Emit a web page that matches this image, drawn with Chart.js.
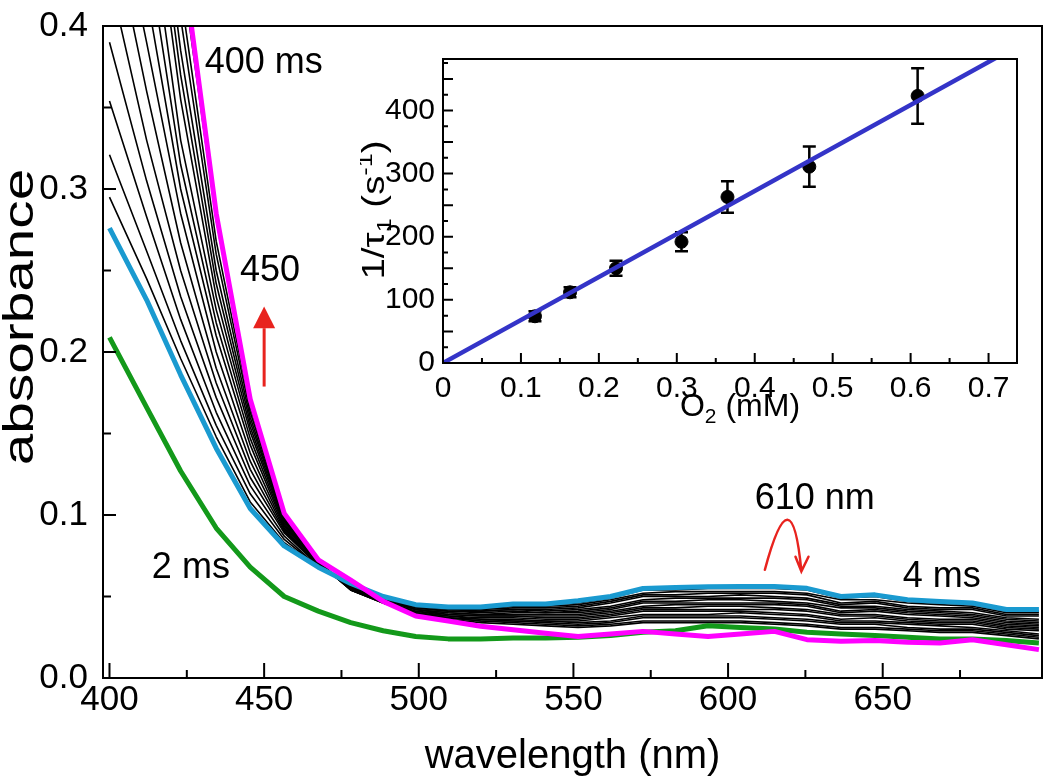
<!DOCTYPE html>
<html>
<head>
<meta charset="utf-8">
<script src="https://cdn.jsdelivr.net/npm/chart.js@4.4.0/dist/chart.umd.min.js"></script>
<style>
  html, body { margin: 0; padding: 0; background: #fff; }
  #wrap { position: relative; width: 1050px; height: 779px; }
  #main { position: absolute; left: 0; top: 0; }
  #inset { position: absolute; left: 360px; top: 40px; }
</style>
</head>
<body>
<div id="wrap">
  <canvas id="main" width="1050" height="779"></canvas>
  <canvas id="inset" width="680" height="400"></canvas>
</div>
<script>
// spectra (absorbance vs wavelength, nm)
const wavelengths = [400, 412, 423, 434.5, 445.5, 456.5, 467.5, 478, 488.5, 499, 509.5, 520, 530.5, 541, 551.5, 562, 572.5, 583, 593.5, 604, 615, 625.5, 636.5, 647.5, 658, 668.5, 679, 690, 700.5]
const abs2ms = [0.209, 0.166, 0.127, 0.092, 0.068, 0.050, 0.041, 0.034, 0.029, 0.0255, 0.024, 0.024, 0.0245, 0.0245, 0.025, 0.026, 0.028, 0.029, 0.032, 0.031, 0.030, 0.028, 0.027, 0.026, 0.025, 0.024, 0.024, 0.023, 0.0215]
const abs4ms = [0.276, 0.232, 0.186, 0.141, 0.104, 0.081, 0.068, 0.058, 0.050, 0.045, 0.0435, 0.0435, 0.0454, 0.0454, 0.0474, 0.050, 0.0549, 0.0555, 0.056, 0.0561, 0.0561, 0.055, 0.050, 0.051, 0.048, 0.047, 0.046, 0.042, 0.042]
const abs400ms = [0.85, 0.62, 0.45, 0.285, 0.171, 0.101, 0.0725, 0.060, 0.047, 0.038, 0.035, 0.0317, 0.0296, 0.0275, 0.0255, 0.027, 0.0286, 0.027, 0.0255, 0.027, 0.0286, 0.0235, 0.0225, 0.023, 0.022, 0.0215, 0.0235, 0.0204, 0.0174]
// intermediate times (black traces), earliest first
const absBetween = [
  [0.295, 0.245, 0.196, 0.148, 0.108, 0.083, 0.068, 0.058, 0.050, 0.045, 0.043, 0.043, 0.045, 0.045, 0.046, 0.049, 0.054, 0.054, 0.055, 0.055, 0.055, 0.054, 0.049, 0.050, 0.047, 0.046, 0.045, 0.041, 0.041],
  [0.321, 0.262, 0.207, 0.155, 0.113, 0.085, 0.068, 0.057, 0.050, 0.044, 0.043, 0.042, 0.044, 0.044, 0.045, 0.048, 0.052, 0.053, 0.053, 0.053, 0.053, 0.052, 0.048, 0.048, 0.046, 0.045, 0.044, 0.040, 0.040],
  [0.354, 0.283, 0.220, 0.163, 0.118, 0.087, 0.068, 0.057, 0.049, 0.044, 0.042, 0.042, 0.043, 0.043, 0.044, 0.047, 0.051, 0.051, 0.052, 0.052, 0.052, 0.051, 0.046, 0.047, 0.044, 0.043, 0.043, 0.039, 0.039],
  [0.390, 0.305, 0.234, 0.172, 0.123, 0.089, 0.069, 0.057, 0.049, 0.044, 0.042, 0.041, 0.042, 0.042, 0.043, 0.046, 0.050, 0.050, 0.050, 0.051, 0.050, 0.049, 0.045, 0.046, 0.043, 0.042, 0.042, 0.038, 0.038],
  [0.43, 0.33, 0.25, 0.181, 0.128, 0.090, 0.069, 0.056, 0.049, 0.043, 0.041, 0.041, 0.042, 0.041, 0.042, 0.044, 0.048, 0.049, 0.049, 0.049, 0.049, 0.048, 0.044, 0.044, 0.042, 0.041, 0.040, 0.037, 0.036],
  [0.47, 0.36, 0.267, 0.19, 0.133, 0.091, 0.069, 0.056, 0.048, 0.043, 0.041, 0.040, 0.041, 0.040, 0.041, 0.043, 0.047, 0.047, 0.048, 0.048, 0.047, 0.046, 0.043, 0.043, 0.041, 0.040, 0.039, 0.036, 0.035],
  [0.50, 0.39, 0.285, 0.20, 0.138, 0.092, 0.069, 0.056, 0.048, 0.042, 0.040, 0.039, 0.040, 0.040, 0.040, 0.042, 0.046, 0.046, 0.046, 0.046, 0.046, 0.045, 0.041, 0.042, 0.040, 0.039, 0.038, 0.035, 0.034],
  [0.54, 0.42, 0.30, 0.21, 0.143, 0.093, 0.070, 0.056, 0.048, 0.042, 0.040, 0.039, 0.039, 0.039, 0.039, 0.041, 0.044, 0.045, 0.045, 0.045, 0.045, 0.044, 0.040, 0.041, 0.039, 0.038, 0.037, 0.034, 0.033],
  [0.58, 0.45, 0.315, 0.218, 0.147, 0.094, 0.070, 0.055, 0.048, 0.042, 0.039, 0.038, 0.038, 0.038, 0.038, 0.040, 0.043, 0.043, 0.044, 0.044, 0.043, 0.042, 0.039, 0.039, 0.037, 0.036, 0.036, 0.033, 0.032],
  [0.62, 0.48, 0.33, 0.226, 0.151, 0.095, 0.070, 0.055, 0.047, 0.041, 0.039, 0.038, 0.038, 0.037, 0.037, 0.039, 0.042, 0.042, 0.042, 0.042, 0.042, 0.041, 0.038, 0.038, 0.036, 0.035, 0.035, 0.032, 0.031],
  [0.66, 0.51, 0.355, 0.234, 0.154, 0.096, 0.070, 0.055, 0.047, 0.041, 0.038, 0.037, 0.037, 0.036, 0.036, 0.038, 0.041, 0.041, 0.041, 0.041, 0.040, 0.039, 0.036, 0.037, 0.035, 0.034, 0.034, 0.031, 0.030],
  [0.70, 0.53, 0.37, 0.242, 0.157, 0.097, 0.071, 0.055, 0.047, 0.040, 0.038, 0.036, 0.036, 0.035, 0.035, 0.037, 0.039, 0.039, 0.039, 0.040, 0.039, 0.038, 0.035, 0.035, 0.034, 0.033, 0.033, 0.030, 0.029],
  [0.74, 0.55, 0.385, 0.25, 0.16, 0.097, 0.071, 0.054, 0.047, 0.040, 0.037, 0.036, 0.035, 0.035, 0.034, 0.035, 0.038, 0.038, 0.038, 0.038, 0.037, 0.036, 0.034, 0.034, 0.033, 0.032, 0.031, 0.029, 0.027],
  [0.78, 0.57, 0.405, 0.26, 0.163, 0.098, 0.071, 0.054, 0.046, 0.040, 0.037, 0.035, 0.035, 0.034, 0.033, 0.034, 0.037, 0.037, 0.037, 0.037, 0.036, 0.035, 0.033, 0.033, 0.031, 0.030, 0.030, 0.028, 0.026],
  [0.80, 0.59, 0.42, 0.268, 0.166, 0.099, 0.071, 0.054, 0.046, 0.039, 0.037, 0.035, 0.034, 0.033, 0.032, 0.033, 0.035, 0.035, 0.035, 0.035, 0.034, 0.033, 0.031, 0.031, 0.030, 0.029, 0.029, 0.027, 0.025],
  [0.84, 0.61, 0.44, 0.281, 0.17, 0.10, 0.072, 0.054, 0.046, 0.039, 0.036, 0.034, 0.033, 0.032, 0.031, 0.032, 0.034, 0.034, 0.034, 0.034, 0.033, 0.032, 0.030, 0.030, 0.029, 0.028, 0.028, 0.026, 0.024],
]
const mainXTicks = [400, 450, 500, 550, 600, 650]
const mainXMinor = [425, 475, 525, 575, 625, 675]
const mainYTicks = [0, 0.1, 0.2, 0.3, 0.4]
const mainYMinor = [0.05, 0.15, 0.25, 0.35]

// inset: 1/tau1 vs O2
const o2mM = [0.118, 0.163, 0.222, 0.306, 0.365, 0.47, 0.609]
const rate = [74, 112, 150, 192, 263, 311, 423]
const rateErr = [8, 8, 12, 15, 25, 32, 44]
const fitX = [0, 0.712]
const fitY = [0, 485]
const insetXTicks = [0, 0.1, 0.2, 0.3, 0.4, 0.5, 0.6, 0.7]
const insetXMinor = [0.05, 0.15, 0.25, 0.35, 0.45, 0.55, 0.65]
const insetYTicks = [0, 100, 200, 300, 400]
const insetYMid = [50, 150, 250, 350, 450]
const insetYMinor = [25, 75, 125, 175, 225, 275, 325, 375, 425, 475]

const FONT = "'Liberation Sans', Arial, 'DejaVu Sans', sans-serif"
Chart.defaults.font.family = FONT
Chart.defaults.color = '#000'

const toXY = ys => ys.map((y, i) => ({ x: wavelengths[i], y }))

// invisible grid, only used so the tick labels sit `len` px off the axis
const hiddenGrid = len => ({ display: true, drawOnChartArea: false, drawTicks: true, tickLength: len, color: 'rgba(0,0,0,0)' })

function axesBox(opt) {
  return {
    id: 'axesBox',
    afterDraw(chart) {
      const { ctx, chartArea: a, scales: { x, y } } = chart
      ctx.save()
      ctx.strokeStyle = '#000'
      ctx.lineWidth = opt.lineWidth
      ctx.strokeRect(a.left, a.top, a.width, a.height)
      ctx.beginPath()
      const xt = (vals, len) => vals.forEach(v => {
        const p = x.getPixelForValue(v)
        ctx.moveTo(p, a.bottom); ctx.lineTo(p, a.bottom - len)
      })
      const yt = (vals, len) => vals.forEach(v => {
        const p = y.getPixelForValue(v)
        ctx.moveTo(a.left, p); ctx.lineTo(a.left + len, p)
      })
      opt.ticks.forEach(t => (t.axis === 'x' ? xt : yt)(t.values, t.len))
      ctx.stroke()
      ctx.restore()
    }
  }
}

// text with sub/superscripts, rotated, optional stretch along the text
function drawRich(ctx, parts, cx, cy, rot, size, stretch) {
  ctx.save()
  ctx.translate(cx, cy)
  ctx.rotate(rot)
  ctx.scale(stretch, 1)
  const fontFor = p => `${p.sub || p.sup ? Math.round(size * 0.65) : size}px ${FONT}`
  let w = 0
  parts.forEach(p => { ctx.font = fontFor(p); w += ctx.measureText(p.t).width })
  let x = -w / 2
  ctx.fillStyle = '#000'
  ctx.textAlign = 'left'
  ctx.textBaseline = 'alphabetic'
  parts.forEach(p => {
    ctx.font = fontFor(p)
    const dy = p.sub ? size * 0.22 : p.sup ? -size * 0.38 : 0
    ctx.fillText(p.t, x, dy)
    x += ctx.measureText(p.t).width
  })
  ctx.restore()
}

const mainNotes = {
  id: 'mainNotes',
  afterDraw(chart) {
    const { ctx, scales: { x, y } } = chart
    const px = v => x.getPixelForValue(v)
    const py = v => y.getPixelForValue(v)
    ctx.save()
    ctx.fillStyle = '#000'
    ctx.font = `36px ${FONT}`
    ctx.textAlign = 'left'
    ctx.textBaseline = 'alphabetic'
    ctx.fillText('400 ms', px(430.8), py(0.3712))
    ctx.fillText('450', px(442.2), py(0.2436))
    ctx.fillText('2 ms', px(413.7), py(0.0615))
    ctx.fillText('610 nm', px(608.6), py(0.1035))
    ctx.fillText('4 ms', px(656.5), py(0.0560))

    // straight red arrow at 450 nm
    ctx.strokeStyle = '#e8231e'
    ctx.fillStyle = '#e8231e'
    ctx.lineWidth = 3
    const ax = px(450)
    ctx.beginPath()
    ctx.moveTo(ax, py(0.1788)); ctx.lineTo(ax, py(0.2146))
    ctx.stroke()
    ctx.beginPath()
    ctx.moveTo(ax, py(0.2279))
    ctx.lineTo(ax - 11, py(0.2146))
    ctx.lineTo(ax + 11, py(0.2146))
    ctx.closePath()
    ctx.fill()

    // curved red arrow at 610 nm
    ctx.lineWidth = 2.5
    ctx.lineCap = 'round'
    ctx.beginPath()
    ctx.moveTo(px(611.9), py(0.0664))
    ctx.quadraticCurveTo(px(620.6), py(0.1283), px(623.7), py(0.0654))
    ctx.moveTo(px(621.8), py(0.0744)); ctx.lineTo(px(623.7), py(0.0654)); ctx.lineTo(px(626.0), py(0.0744))
    ctx.stroke()

    // y title
    drawRich(ctx, [{ t: 'absorbance' }], 33, 317, -Math.PI / 2, 42, 1.35)
    ctx.restore()
  }
}

new Chart(document.getElementById('main'), {
  type: 'line',
  data: {
    datasets: [
      { label: '400 ms', data: toXY(abs400ms), borderColor: '#ff00ff', borderWidth: 5 },
      { label: '4 ms', data: toXY(abs4ms), borderColor: '#1a9ad0', borderWidth: 5 },
      { label: '2 ms', data: toXY(abs2ms), borderColor: '#13991a', borderWidth: 5 },
      ...absBetween.map(s => ({ data: toXY(s), borderColor: '#000', borderWidth: 1.6 })),
    ],
  },
  options: {
    responsive: false,
    animation: false,
    devicePixelRatio: 1,
    layout: { padding: { top: 26, right: 8, left: 0, bottom: 0 } },
    elements: { point: { radius: 0 }, line: { tension: 0, borderJoinStyle: 'round' } },
    plugins: { legend: { display: false }, tooltip: { enabled: false } },
    scales: {
      x: {
        type: 'linear', min: 397.9, max: 701.5,
        afterFit: s => { s.height = 101 },
        afterBuildTicks: s => { s.ticks = mainXTicks.map(v => ({ value: v })) },
        grid: hiddenGrid(1),
        border: { display: false },
        ticks: { font: { size: 35 }, padding: 0, maxRotation: 0, autoSkip: false, callback: v => String(v) },
        title: { display: true, text: 'wavelength (nm)', font: { size: 40, lineHeight: 1 }, padding: { top: 0, bottom: 2 } },
      },
      y: {
        min: 0, max: 0.4,
        afterFit: s => { s.width = 103 },
        afterBuildTicks: s => { s.ticks = mainYTicks.map(v => ({ value: v })) },
        grid: hiddenGrid(15),
        border: { display: false },
        ticks: { font: { size: 35 }, padding: 0, callback: v => v.toFixed(1) },
      },
    },
  },
  plugins: [
    axesBox({ lineWidth: 2, ticks: [
      { axis: 'x', values: mainXTicks, len: 15 }, { axis: 'x', values: mainXMinor, len: 8 },
      { axis: 'y', values: mainYTicks, len: 13 }, { axis: 'y', values: mainYMinor, len: 8 },
    ] }),
    mainNotes,
  ],
})

const errorBars = {
  id: 'errorBars',
  beforeDatasetsDraw(chart) {
    const { ctx, scales: { x, y } } = chart
    ctx.save()
    ctx.strokeStyle = '#000'
    ctx.lineWidth = 2.5
    ctx.beginPath()
    o2mM.forEach((v, i) => {
      const cx = x.getPixelForValue(v)
      const top = y.getPixelForValue(rate[i] + rateErr[i])
      const bot = y.getPixelForValue(rate[i] - rateErr[i])
      ctx.moveTo(cx, top); ctx.lineTo(cx, bot)
      ctx.moveTo(cx - 6.5, top); ctx.lineTo(cx + 6.5, top)
      ctx.moveTo(cx - 6.5, bot); ctx.lineTo(cx + 6.5, bot)
    })
    ctx.stroke()
    ctx.restore()
  }
}

const insetTitles = {
  id: 'insetTitles',
  afterDraw(chart) {
    const { ctx } = chart
    drawRich(ctx, [{ t: '1/τ' }, { t: '1', sub: true }, { t: ' (s' }, { t: '-1', sup: true }, { t: ')' }], 24, 170, -Math.PI / 2, 32, 1.2)
    drawRich(ctx, [{ t: 'O' }, { t: '2', sub: true }, { t: ' (mM)' }], 380, 376, 0, 32, 1)
  }
}

new Chart(document.getElementById('inset'), {
  type: 'scatter',
  data: {
    datasets: [
      { type: 'line', data: fitX.map((x, i) => ({ x, y: fitY[i] })), borderColor: '#3434c8', borderWidth: 4.5, pointRadius: 0 },
      { data: o2mM.map((x, i) => ({ x, y: rate[i] })), backgroundColor: '#000', borderColor: '#000', pointRadius: 6.5 },
    ],
  },
  options: {
    responsive: false,
    animation: false,
    devicePixelRatio: 1,
    layout: { padding: { top: 19, right: 23, left: 0, bottom: 0 } },
    plugins: { legend: { display: false }, tooltip: { enabled: false } },
    scales: {
      x: {
        type: 'linear', min: 0, max: 0.7365,
        afterFit: s => { s.height = 77 },
        afterBuildTicks: s => { s.ticks = insetXTicks.map(v => ({ value: v })) },
        grid: hiddenGrid(8),
        border: { display: false },
        ticks: { font: { size: 30 }, padding: 0, maxRotation: 0, autoSkip: false, callback: v => (v === 0 ? '0' : v.toFixed(1)) },
      },
      y: {
        min: 0, max: 481.5,
        afterFit: s => { s.width = 83 },
        afterBuildTicks: s => { s.ticks = insetYTicks.map(v => ({ value: v })) },
        grid: hiddenGrid(8),
        border: { display: false },
        ticks: { font: { size: 30 }, padding: 0, callback: v => String(v) },
      },
    },
  },
  plugins: [
    errorBars,
    axesBox({ lineWidth: 2, ticks: [
      { axis: 'x', values: insetXTicks, len: 10 }, { axis: 'x', values: insetXMinor, len: 5 },
      { axis: 'y', values: insetYTicks, len: 10 }, { axis: 'y', values: insetYMid, len: 10 }, { axis: 'y', values: insetYMinor, len: 5 },
    ] }),
    insetTitles,
  ],
})
</script>
</body>
</html>
